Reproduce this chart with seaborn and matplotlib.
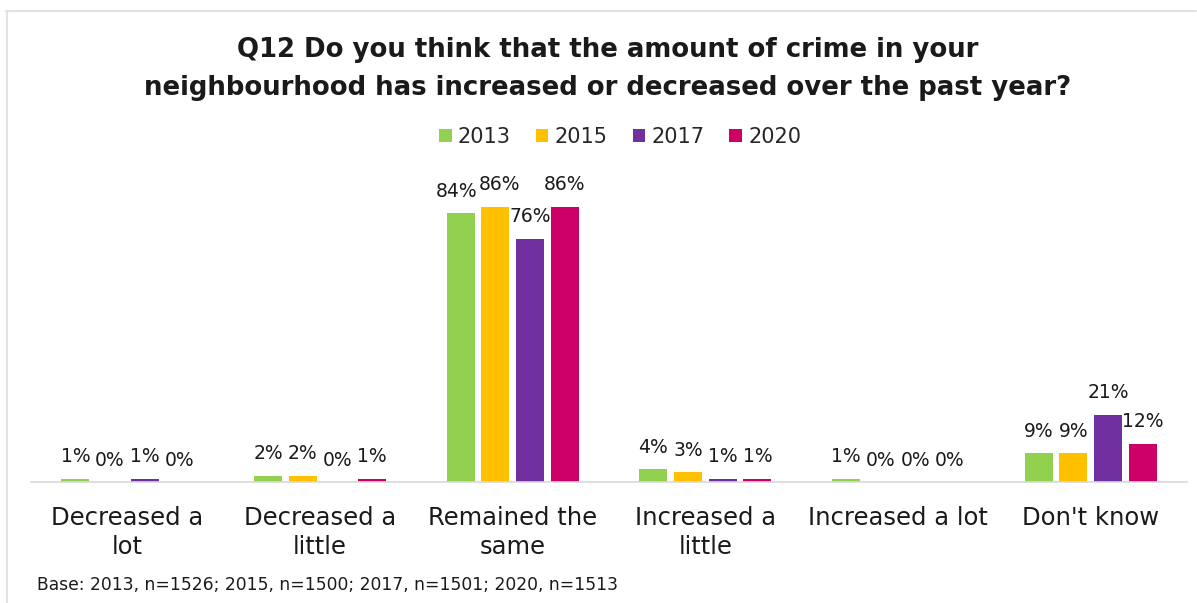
import matplotlib
matplotlib.use("Agg")
import matplotlib.pyplot as plt
from matplotlib.lines import Line2D
from matplotlib.patches import Patch
import seaborn as sns
import pandas as pd

categories = ["Decreased a\nlot", "Decreased a\nlittle", "Remained the\nsame",
              "Increased a\nlittle", "Increased a lot", "Don't know"]
years = ["2013", "2015", "2017", "2020"]
values_2013 = [1, 2, 84, 4, 1, 9]
values_2015 = [0, 2, 86, 3, 0, 9]
values_2017 = [1, 0, 76, 1, 0, 21]
values_2020 = [0, 1, 86, 1, 0, 12]
colors = ["#92D050", "#FFC000", "#7030A0", "#CC0066"]
footnote = "Base: 2013, n=1526; 2015, n=1500; 2017, n=1501; 2020, n=1513"
title = ("Q12 Do you think that the amount of crime in your\n"
         "neighbourhood has increased or decreased over the past year?")

series = [values_2013, values_2015, values_2017, values_2020]
rows = []
for y, vals in zip(years, series):
    for c, v in zip(categories, vals):
        rows.append({"category": c, "year": y, "value": v})
df = pd.DataFrame(rows)

sns.set_theme(style="white")
plt.rcParams["font.family"] = ["DejaVu Sans"]
text_color = "#1a1a1a"

W, H = 1197, 603
fig = plt.figure(figsize=(W / 100, H / 100), dpi=100)
ax = fig.add_axes([31 / W, (H - 482) / H, (1187 - 31) / W, (482 - 165) / H])

sns.barplot(data=df, x="category", y="value", hue="year", hue_order=years,
            palette=colors, width=0.72, gap=0.2, ax=ax, legend=False,
            saturation=1, errorbar=None, linewidth=0)

ax.set_ylim(0, 99)
ax.set_xlim(-0.5, len(categories) - 0.5)
ax.set_xlabel("")
ax.set_ylabel("")
ax.set_yticks([])
for s in ["top", "right", "left"]:
    ax.spines[s].set_visible(False)
ax.spines["bottom"].set_color("#d9d9d9")
ax.spines["bottom"].set_linewidth(1.2)

ax.set_xticks(range(len(categories)))
ax.set_xticklabels(categories, fontsize=17.5, color=text_color, linespacing=1.3)
ax.tick_params(axis="x", which="major", length=0, pad=17)
ax.set_xticks([i - 0.5 for i in range(len(categories) + 1)], minor=True)
ax.tick_params(axis="x", which="minor", length=14, color="#d9d9d9", width=1.2)

label_sets = []
for container, vals in zip(ax.containers, series):
    label_sets.append(ax.bar_label(container, labels=[f"{v:.0f}%" for v in vals],
                                   padding=9, fontsize=13.5, color=text_color))

# spread apart value labels within a group that would collide
fig.canvas.draw()
renderer = fig.canvas.get_renderer()
for ci in range(len(categories)):
    texts = [labs[ci] for labs in label_sets]
    for _ in range(5):
        for a, b in zip(texts[:-1], texts[1:]):
            ea = a.get_window_extent(renderer)
            eb = b.get_window_extent(renderer)
            if ea.x1 > eb.x0 and ea.y0 < eb.y1 and eb.y0 < ea.y1:
                shift = (ea.x1 - eb.x0 + 1) / 2
                for t, d in ((a, -shift), (b, shift)):
                    x, y = t.xyann
                    t.xyann = (x + d * 72 / fig.dpi, y)

handles = [Patch(facecolor=c, edgecolor="none") for c in colors]
fig.legend(handles, years, loc="center", bbox_to_anchor=(620 / W, 1 - 137 / H),
           ncol=4, frameon=False, fontsize=15, handlelength=0.6, handleheight=0.6,
           handletextpad=0.3, columnspacing=1.2)

fig.text(608 / W, 1 - 69 / H, title, ha="center", va="center", fontsize=18.7,
         fontweight="bold", color=text_color, linespacing=1.6)
fig.text(37 / W, 1 - 585 / H, footnote, ha="left", va="center", fontsize=12.3,
         color=text_color)

# thin frame lines along the top and left edge
fig.add_artist(Line2D([6 / W, 1196 / W], [1 - 10.5 / H, 1 - 10.5 / H],
                      transform=fig.transFigure, color="#e3e3e3", lw=1.5))
fig.add_artist(Line2D([6.5 / W, 6.5 / W], [0, 1 - 10.5 / H],
                      transform=fig.transFigure, color="#e3e3e3", lw=1.5))

fig.savefig("out.png", dpi=100)
